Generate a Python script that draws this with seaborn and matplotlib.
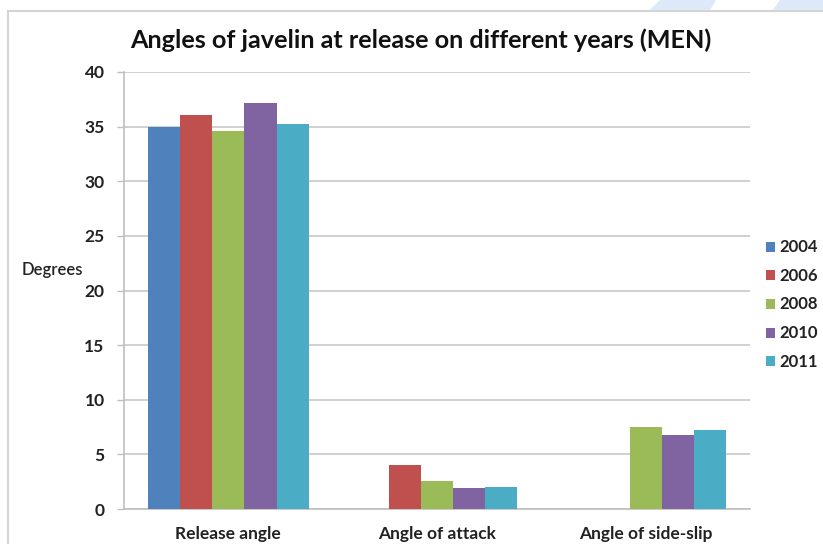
import numpy as np
import pandas as pd
import seaborn as sns
import matplotlib.pyplot as plt
from matplotlib.patches import Polygon, Rectangle

categories = ["Release angle", "Angle of attack", "Angle of side-slip"]
years = ["2004", "2006", "2008", "2010", "2011"]
values_2004 = [35.0, np.nan, np.nan]
values_2006 = [36.1, 4.0, np.nan]
values_2008 = [34.6, 2.6, 7.5]
values_2010 = [37.2, 1.9, 6.8]
values_2011 = [35.2, 2.0, 7.25]
y_ticks = [0, 5, 10, 15, 20, 25, 30, 35, 40]

colors = ["#4F81BD", "#C0504D", "#9BBB59", "#8064A2", "#4BACC6"]

series = [values_2004, values_2006, values_2008, values_2010, values_2011]
rows = []
for year, vals in zip(years, series):
    for cat, v in zip(categories, vals):
        rows.append({"Angle": cat, "Year": year, "Degrees": v})
df = pd.DataFrame(rows).dropna()

sns.set_theme(style="white")
plt.rcParams["font.family"] = ["Lato", "DejaVu Sans"]

fig = plt.figure(figsize=(8.23, 5.44), dpi=100)
W, H = 823, 544
ax = fig.add_axes([124 / W, 1 - 509 / H, (750 - 124) / W, (509 - 72) / H])

sns.barplot(data=df, x="Angle", y="Degrees", hue="Year",
            order=categories, hue_order=years, palette=colors,
            width=0.77, gap=0, errorbar=None, saturation=1,
            edgecolor="none", linewidth=0, ax=ax, zorder=3)

ax.set_ylim(0, 40)
ax.set_xlim(-0.5, 2.5)
ax.set_yticks(y_ticks)
ax.set_yticklabels([str(t) for t in y_ticks], fontsize=12.5, fontweight="bold", color="#222222")
ax.set_xticks(range(len(categories)))
ax.set_xticklabels(categories, fontsize=12.5, fontweight="bold", color="#222222")
ax.tick_params(axis="x", length=0, pad=12)
ax.tick_params(axis="y", length=5, width=1, color="#bfbfbf", pad=9, left=True)
ax.yaxis.grid(True, color="#c8c8c8", linewidth=1.2, zorder=0)
ax.set_axisbelow(True)
for side in ["top", "right"]:
    ax.spines[side].set_visible(False)
for side in ["left", "bottom"]:
    ax.spines[side].set_color("#bfbfbf")
    ax.spines[side].set_linewidth(1.2)
ax.set_xlabel("")
ax.set_ylabel("")

fig.text(22 / W, 1 - 270 / H, "Degrees", fontsize=12, fontweight="semibold",
         color="#222222", va="center", ha="left")

fig.text(421 / W, 1 - 40 / H, "Angles of javelin at release on different years (MEN)",
         fontsize=18.2, fontweight="bold", color="#111111", ha="center", va="center")

leg = ax.legend(loc="upper left", bbox_to_anchor=(766 / W, 1 - 239 / H),
                bbox_transform=fig.transFigure, frameon=False,
                handlelength=0.62, handleheight=0.62, handletextpad=0.25,
                labelspacing=0.83, borderaxespad=0, borderpad=0)
for t in leg.get_texts():
    t.set_fontsize(12)
    t.set_fontweight("bold")
    t.set_color("#222222")

# outer chart frame and light decorative stripes above it
fig.patches.append(Rectangle((8 / W, -0.05), 1.1, 1 - 11 / H + 0.05,
                             transform=fig.transFigure, fill=False,
                             edgecolor="#d4d4d4", linewidth=1.5))
for poly in ([(650, 10), (660, 0), (716, 0), (710, 10)],
             [(773, 10), (780, 0), (823, 0), (823, 10)]):
    fig.patches.append(Polygon([(x / W, 1 - y / H) for x, y in poly],
                               closed=True, transform=fig.transFigure,
                               facecolor="#dde8f8", edgecolor="none"))

fig.savefig("out.png", dpi=100)
